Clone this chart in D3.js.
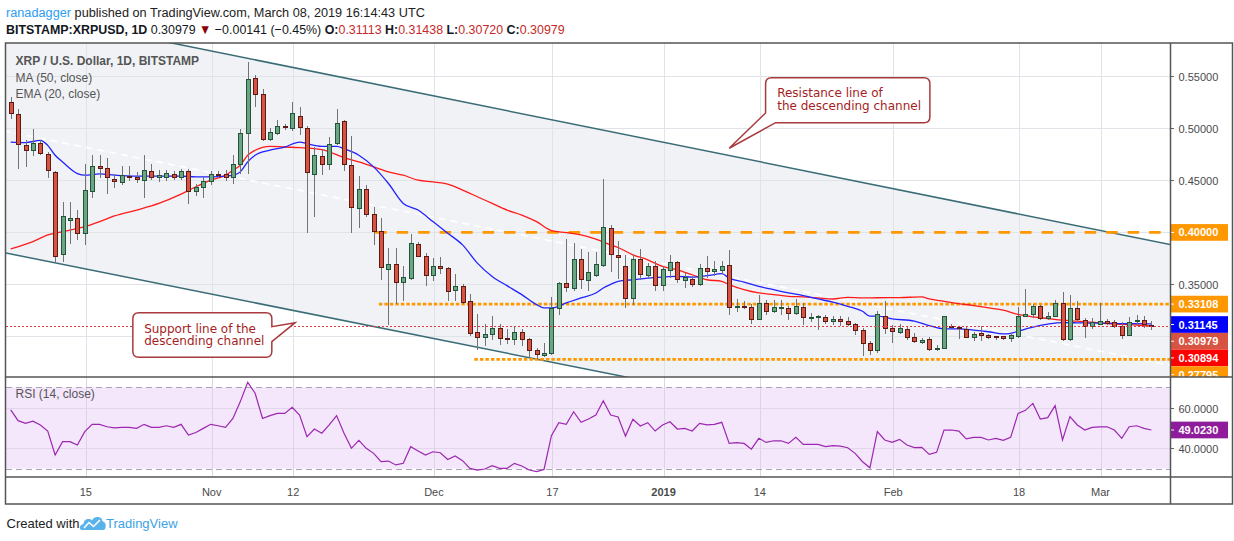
<!DOCTYPE html>
<html>
<head>
<meta charset="utf-8">
<script src="https://cdn.jsdelivr.net/npm/d3@7"></script>
<style>
body { margin: 0; background: #fff; }
svg { display: block; font-family: "Liberation Sans", Arial, sans-serif; }
</style>
</head>
<body>
<svg id="chart" width="1234" height="541"></svg>
<script>
// daily candles, Oct 5 2018 .. Mar 8 2019 (one value per day)
var firstDay = "2018-10-05", lastDay = "2019-03-08";

var opens = [
 .5258,.5140,.4844,.4796,.4863,.4758,.4582,.3791,.4120,.4136,
 .3992,.4400,.4636,.4624,.4518,.4486,.4544,.4534,.4502,.4588,
 .4534,.4534,.4566,.4534,.4592,.4400,.4432,.4496,.4566,.4560,
 .4528,.4656,.4959,.5482,.5332,.4901,.4959,.5019,.5006,.5118,
 .5006,.4566,.4735,.4656,.4860,.5067,.4652,.4231,.4413,.4174,
 .4018,.3648,.3695,.3523,.3561,.3887,.3778,.3590,.3673,.3657,
 .3447,.3485,.3338,.3041,.2997,.3019,.3083,.2981,.2971,.3041,
 .2971,.2866,.2825,.2844,.3274,.3514,.3466,.3743,.3545,.3593,
 .3686,.4040,.3785,.3673,.3370,.3743,.3587,.3679,.3491,.3635,
 .3714,.3539,.3555,.3504,.3657,.3625,.3641,.3683,.3284,.3293,
 .3284,.3169,.3322,.3242,.3281,.3274,.3226,.3284,.3179,.3188,
 .3188,.3153,.3169,.3150,.3121,.3064,.2933,.2869,.3201,.3083,
 .3041,.3073,.2997,.2946,.2978,.2876,.2892,.3105,.3092,.3073,
 .2997,.3029,.3013,.3000,.3000,.2987,.3003,.3201,.3220,.3297,
 .3179,.3201,.3322,.2978,.3274,.3156,.3099,.3124,.3144,.3137,
 .3105,.3016,.3153,.3156,.31113];
var highs = [
 .5306,.5188,.4885,.4997,.4892,.4774,.4588,.4295,.4295,.4215,
 .4656,.4742,.4742,.4719,.4566,.4636,.4636,.4582,.4742,.4662,
 .4598,.4598,.4592,.4614,.4614,.4470,.4534,.4592,.4588,.4598,
 .4742,.4997,.5641,.5514,.5380,.5006,.5077,.5045,.5258,.5204,
 .5019,.4821,.4799,.4917,.5188,.5077,.4923,.4541,.4455,.4247,
 .4136,.3848,.3848,.3673,.3982,.3912,.3801,.3753,.3762,.3663,
 .3600,.3504,.3411,.3211,.3115,.3195,.3124,.3073,.3105,.3067,
 .2987,.2891,.2933,.3380,.3520,.3938,.3896,.3839,.3810,.3810,
 .4512,.4072,.3919,.3785,.3785,.3842,.3704,.3721,.3679,.3785,
 .3730,.3609,.3584,.3699,.3775,.3721,.3727,.3833,.3360,.3338,
 .3316,.3402,.3354,.3354,.3354,.3297,.3360,.3322,.3226,.3210,
 .3210,.3195,.3195,.3188,.3131,.3083,.2955,.3249,.3338,.3108,
 .3121,.3099,.3029,.2987,.2997,.2914,.3201,.3115,.3105,.3099,
 .3041,.3105,.3019,.3003,.3003,.3035,.3281,.3456,.3316,.3306,
 .3233,.3354,.3428,.3402,.3344,.3179,.3179,.3322,.3169,.3156,
 .3137,.3188,.3210,.3194,.31438];
var lows = [
 .5102,.4620,.4636,.4742,.4758,.4534,.3730,.3721,.3896,.3938,
 .3890,.4343,.4534,.4375,.4439,.4470,.4502,.4486,.4337,.4509,
 .4496,.4502,.4509,.4518,.4279,.4359,.4343,.4464,.4534,.4502,
 .4477,.4573,.4573,.5220,.4885,.4885,.4949,.4997,.4981,.4949,
 .4008,.4161,.4566,.4614,.4853,.4598,.4008,.4056,.4161,.3890,
 .3552,.3124,.3322,.3354,.3552,.3769,.3498,.3539,.3609,.3354,
 .3354,.3322,.3010,.2882,.2914,.2971,.2923,.2933,.2923,.2914,
 .2812,.2796,.2812,.2828,.3211,.3434,.3443,.3466,.3450,.3577,
 .3680,.3625,.3561,.3284,.3316,.3555,.3561,.3443,.3450,.3571,
 .3520,.3475,.3488,.3498,.3571,.3593,.3609,.3217,.3242,.3271,
 .3131,.3163,.3211,.3233,.3220,.3163,.3211,.3115,.3147,.3073,
 .3131,.3115,.3108,.3108,.3019,.2818,.2834,.2850,.3035,.2946,
 .3029,.2971,.2946,.2933,.2869,.2869,.2885,.3086,.2987,.2990,
 .2965,.2965,.2984,.2978,.2978,.2955,.2997,.3195,.3188,.3163,
 .3163,.3195,.2965,.2965,.3156,.2997,.3080,.3115,.3115,.3092,
 .2987,.3010,.3115,.3092,.30720];
var closes = [
 .5150,.4853,.4796,.4863,.4767,.4598,.3769,.4158,.4142,.3992,
 .4407,.4636,.4620,.4528,.4496,.4550,.4528,.4509,.4598,.4534,
 .4550,.4576,.4534,.4592,.4400,.4439,.4496,.4566,.4550,.4528,
 .4656,.4959,.5475,.5332,.4895,.4965,.5019,.5010,.5150,.5013,
 .4582,.4748,.4662,.4853,.5054,.4662,.4247,.4413,.4174,.4018,
 .3667,.3695,.3523,.3571,.3896,.3778,.3590,.3673,.3657,.3434,
 .3485,.3329,.3035,.2997,.3019,.3083,.2987,.2974,.3041,.2971,
 .2866,.2831,.2844,.3274,.3514,.3475,.3743,.3552,.3619,.3695,
 .4049,.3791,.3762,.3370,.3743,.3600,.3679,.3491,.3651,.3714,
 .3552,.3571,.3504,.3657,.3625,.3648,.3673,.3284,.3293,.3287,
 .3169,.3322,.3242,.3284,.3287,.3226,.3290,.3188,.3188,.3195,
 .3147,.3163,.3147,.3121,.3061,.2939,.2869,.3211,.3083,.3051,
 .3083,.2997,.2955,.2965,.2876,.2892,.3195,.3092,.3080,.2997,
 .3019,.3010,.2990,.2990,.2987,.3010,.3201,.3217,.3297,.3179,
 .3201,.3322,.2978,.3274,.3169,.3099,.3137,.3147,.3131,.3099,
 .3016,.3137,.3159,.3121,.30979];

// moving averages: [day index, value]
var ema20 = [[0,.4869],[2,.4863],[4,.4885],[5,.4837],[6,.4742],[7,.4678],[9,.4566],[10,.4550],[12,.4562],[14,.4550],
 [17,.4541],[20,.4541],[23,.4541],[25,.4534],[27,.4534],[29,.4541],[30,.4550],[31,.4582],[32,.4678],[33,.4742],
 [35,.4790],[37,.4821],[39,.4869],[40,.4853],[42,.4828],[44,.4828],[45,.4805],[47,.4742],[49,.4630],[51,.4470],
 [53,.4279],[55,.4215],[57,.4104],[59,.3992],[61,.3880],[63,.3705],[65,.3577],[67,.3488],[69,.3402],[71,.3306],
 [72,.3274],[73,.3274],[74,.3290],[75,.3322],[77,.3370],[79,.3418],[80,.3466],[81,.3500],[82,.3530],[84,.3545],
 [86,.3561],[88,.3571],[90,.3577],[92,.3571],[94,.3584],[96,.3603],[97,.3561],[99,.3523],[101,.3482],[103,.3450],
 [105,.3418],[107,.3393],[109,.3360],[111,.3329],[113,.3290],[115,.3242],[116,.3195],[117,.3195],[119,.3169],[122,.3147],
 [124,.3105],[126,.3073],[128,.3073],[130,.3061],[132,.3045],[134,.3025],[135,.3030],[136,.3050],[138,.3090],[140,.3118],
 [142,.3133],[144,.3131],[146,.3128],[148,.3128],[150,.3124],[152,.3124],[154,.3120]];
var ma50 = [[0,.3842],[3,.3912],[5,.3976],[7,.4008],[10,.4056],[12,.4104],[14,.4158],[17,.4215],[20,.4279],[23,.4368],
 [25,.4439],[27,.4502],[29,.4550],[30,.4598],[31,.4646],[32,.4742],[33,.4790],[35,.4828],[37,.4821],[39,.4815],
 [42,.4796],[45,.4719],[47,.4678],[49,.4630],[51,.4582],[53,.4550],[55,.4502],[57,.4486],[59,.4464],[61,.4407],
 [63,.4343],[65,.4279],[67,.4215],[69,.4167],[71,.4104],[73,.4018],[75,.3998],[77,.3976],[79,.3935],[81,.3880],
 [82,.3855],[84,.3785],[86,.3737],[88,.3673],[90,.3641],[92,.3593],[94,.3545],[96,.3530],[97,.3498],[99,.3450],
 [101,.3418],[103,.3402],[105,.3386],[107,.3380],[109,.3370],[111,.3360],[113,.3376],[115,.3370],[117,.3372],[120,.3373],
 [123,.3380],[124,.3360],[126,.3338],[128,.3316],[130,.3297],[132,.3274],[134,.3252],[136,.3211],[138,.3188],[140,.3172],
 [142,.3156],[144,.3147],[146,.3137],[148,.3124],[150,.3115],[152,.3110],[154,.3100]];

var rsi = [
 58.9,53.6,52.3,53.4,51.5,48.5,36.7,43.3,43.3,41.6,
 48.2,51.8,51.8,50.6,50.1,50.3,50.3,49.8,51.8,50.3,
 50.3,51.1,50.3,51.8,46.5,47.8,49.8,51.8,51.1,50.3,
 54.7,63.0,72.5,67.1,54.7,56.1,57.2,57.2,60.2,56.4,
 45.7,49.5,47.4,51.5,56.1,47.4,40.0,43.9,40.0,37.5,
 33.4,33.7,31.8,32.6,40.8,38.7,36.7,38.3,37.8,34.5,
 36.2,33.9,30.1,29.3,29.8,31.4,30.1,30.1,32.6,31.3,
 29.3,28.5,29.6,46.2,52.6,51.8,58.0,52.8,54.4,56.4,
 63.4,56.4,55.4,46.0,54.3,51.0,52.6,48.5,51.5,53.1,
 49.5,49.8,48.5,52.3,51.5,51.8,52.8,42.4,42.8,42.4,
 39.6,44.9,42.9,43.7,43.7,42.4,45.4,41.9,41.9,41.9,
 40.8,41.3,41.1,40.3,37.5,33.4,30.4,48.2,44.1,42.9,
 44.4,41.6,40.3,40.5,37.0,38.0,49.0,49.0,48.5,44.6,
 45.4,45.4,44.1,44.9,43.9,45.4,57.2,58.7,62.1,54.4,
 55.1,61.0,44.1,55.6,51.5,49.0,50.3,50.6,50.6,49.0,
 44.9,50.6,51.1,49.8,49.023];
var rsiLast = 49.023;

// drawings: descending channel at day index -1 and 157
var channelIdx = [-1, 157];
var channelUpper = [0.6148, 0.3876];
var channelLower = [0.3807, 0.1557];
var channelMid = [0.4977, 0.2716];

// horizontal levels and where they start (day index)
var levelValues = [0.40, 0.33108, 0.27795];
var levelStart = [49.2, 49.7, 62.6];

// price axis tags
var tagValues = [0.40, 0.33108, 0.31145, 0.30979, 0.30894, 0.27795];
var lastPrice = 0.30979;

var priceTicks = [0.30, 0.35, 0.40, 0.45, 0.50, 0.55];
var priceTickLabels = [0.35, 0.45, 0.50, 0.55];
var rsiTicks = [60, 40];
var rsiBands = [70, 30];
var tickDates = ["2018-10-15","2018-11-01","2018-11-12","2018-12-01","2018-12-17","2019-01-01","2019-01-14","2019-02-01","2019-02-18","2019-03-01"];
var tickLabels = ["15","Nov","12","Dec","17","2019","14","Feb","18","Mar"];

var legendLines = ["XRP / U.S. Dollar, 1D, BITSTAMP", "MA (50, close)", "EMA (20, close)"];
var resistanceText = ["Resistance line of", "the descending channel"];
var supportText = ["Support line of the", "descending channel"];
var resistanceTip = [97.0, 0.4809];
var supportTip = [38.4, 0.3132];

// ---------------------------------------------------------------
var L = 6, R = 1170, T = 43, MB = 377, RB = 477, AB = 504;
var svg = d3.select("#chart");
var parse = d3.utcParse("%Y-%m-%d");
var day0 = parse(firstDay);
var days = d3.utcDay.range(day0, d3.utcDay.offset(parse(lastDay), 1));

var x = d3.scaleUtc().domain([day0, parse(lastDay)]).range([10.7, 1151.4]);
function xi(i) { return x(new Date(day0.getTime() + i * 864e5)); }
var y = d3.scaleLinear().domain([0.2610, 0.5821]).range([MB, T]);
var yr = d3.scaleLinear().domain([25.86, 75.12]).range([RB, MB]);
function crisp(v) { return Math.round(v) + 0.5; }

var defs = svg.append("defs");
defs.append("clipPath").attr("id", "mainClip").append("rect")
    .attr("x", L).attr("y", T).attr("width", R - L).attr("height", MB - T);
defs.append("clipPath").attr("id", "rsiClip").append("rect")
    .attr("x", L).attr("y", MB).attr("width", R - L).attr("height", RB - MB);
defs.append("clipPath").attr("id", "tagClip").append("rect")
    .attr("x", R).attr("y", T).attr("width", 1234 - R).attr("height", MB - T);

svg.append("rect").attr("width", 1234).attr("height", 541).attr("fill", "#fff");

// backgrounds: channel fill and rsi band
var mainBg = svg.append("g").attr("clip-path", "url(#mainClip)");
var chanPoly = [[xi(channelIdx[0]), y(channelUpper[0])], [xi(channelIdx[1]), y(channelUpper[1])],
                [xi(channelIdx[1]), y(channelLower[1])], [xi(channelIdx[0]), y(channelLower[0])]];
mainBg.append("path").attr("d", "M" + chanPoly.join("L") + "Z").attr("fill", "#f0f2f5");

var rsiBg = svg.append("g").attr("clip-path", "url(#rsiClip)");
rsiBg.append("rect").attr("x", L).attr("width", R - L)
    .attr("y", yr(rsiBands[0])).attr("height", yr(rsiBands[1]) - yr(rsiBands[0]))
    .attr("fill", "#f4e6fb");

// grid
var grid = svg.append("g").attr("stroke-width", 1);
priceTicks.forEach(function(p) {
    grid.append("line").attr("x1", L).attr("x2", R).attr("y1", crisp(y(p))).attr("y2", crisp(y(p)))
        .attr("stroke", "#e0e3e7");
});
rsiTicks.forEach(function(v) {
    grid.append("line").attr("x1", L).attr("x2", R).attr("y1", crisp(yr(v))).attr("y2", crisp(yr(v)))
        .attr("stroke", "#e1d6ea");
});
tickDates.forEach(function(d) {
    var xx = crisp(x(parse(d)) + 1);
    grid.append("line").attr("x1", xx).attr("x2", xx).attr("y1", T).attr("y2", MB).attr("stroke", "#e0e3e7");
    grid.append("line").attr("x1", xx).attr("x2", xx).attr("y1", MB).attr("y2", RB).attr("stroke", "#ddd3e6");
});

var main = svg.append("g").attr("clip-path", "url(#mainClip)");

// channel middle line and borders
main.append("line")
    .attr("x1", xi(channelIdx[0])).attr("y1", y(channelMid[0]))
    .attr("x2", xi(channelIdx[1])).attr("y2", y(channelMid[1]))
    .attr("stroke", "#fff").attr("stroke-width", 1.6).attr("stroke-dasharray", "7,5");
[channelUpper, channelLower].forEach(function(c) {
    main.append("line")
        .attr("x1", xi(channelIdx[0])).attr("y1", y(c[0]))
        .attr("x2", xi(channelIdx[1])).attr("y2", y(c[1]))
        .attr("stroke", "#3a6c76").attr("stroke-width", 1.5);
});

// horizontal levels
var levelDash = ["11.5,10", "3.5,2", "3.5,2"];
var levelWidth = [2.8, 2.6, 2.6];
levelValues.forEach(function(v, k) {
    main.append("line").attr("x1", xi(levelStart[k])).attr("x2", R)
        .attr("y1", y(v)).attr("y2", y(v))
        .attr("stroke", "#ff9800").attr("stroke-width", levelWidth[k])
        .attr("stroke-dasharray", levelDash[k]);
});

// moving averages
var maLine = d3.line().x(function(d) { return xi(d[0]); }).y(function(d) { return y(d[1]); })
    .curve(d3.curveMonotoneX);
main.append("path").datum(ma50).attr("d", maLine).attr("fill", "none")
    .attr("stroke", "#ff1a1a").attr("stroke-width", 1.3);
main.append("path").datum(ema20).attr("d", maLine).attr("fill", "none")
    .attr("stroke", "#2222ff").attr("stroke-width", 1.3);

// candles
var bars = days.map(function(d, i) {
    return { d: d, o: opens[i], h: highs[i], l: lows[i], c: closes[i] };
});
var cg = main.append("g");
cg.selectAll("line").data(bars).join("line")
    .attr("x1", function(b) { return crisp(x(b.d)); })
    .attr("x2", function(b) { return crisp(x(b.d)); })
    .attr("y1", function(b) { return Math.round(y(b.h)); })
    .attr("y2", function(b) { return Math.round(y(b.l)) + 1; })
    .attr("stroke", "#737375").attr("stroke-width", 1);
cg.selectAll("rect").data(bars).join("rect")
    .attr("x", function(b) { return Math.round(x(b.d)) - 1.5; })
    .attr("width", 4)
    .attr("y", function(b) { return crisp(y(Math.max(b.o, b.c))); })
    .attr("height", function(b) {
        return Math.max(1, Math.round(y(Math.min(b.o, b.c))) - Math.round(y(Math.max(b.o, b.c))));
    })
    .attr("fill", function(b) { return b.c >= b.o ? "#6ba583" : "#d75442"; })
    .attr("stroke", function(b) { return b.c >= b.o ? "#225437" : "#5b1a13"; })
    .attr("stroke-width", 1);

// last price line
main.append("line").attr("x1", L).attr("x2", R)
    .attr("y1", crisp(y(lastPrice))).attr("y2", crisp(y(lastPrice)))
    .attr("stroke", "#e0393e").attr("stroke-width", 1).attr("stroke-dasharray", "2,2");

// rsi band lines and line
var rsiG = svg.append("g").attr("clip-path", "url(#rsiClip)");
rsiBands.forEach(function(v) {
    rsiG.append("line").attr("x1", L).attr("x2", R).attr("y1", crisp(yr(v))).attr("y2", crisp(yr(v)))
        .attr("stroke", "#a9a3b2").attr("stroke-width", 1).attr("stroke-dasharray", "6,4");
});
rsiG.append("path").datum(rsi)
    .attr("d", d3.line().x(function(d, i) { return x(days[i]); }).y(function(d) { return yr(d); }))
    .attr("fill", "none").attr("stroke", "#9c27b0").attr("stroke-width", 1.2);

// callouts
function callout(tip, lines, side) {
    var tx = xi(tip[0]), ty = y(tip[1]);
    var r = 6, x0, y0, x1, y1, d, textX, base;
    if (side === "left") {
        x0 = tx + 36.4; y0 = ty - 70.6; x1 = x0 + 164.3; y1 = y0 + 45;
        d = "M" + (x0 + r) + "," + y0 + "H" + (x1 - r) + "Q" + x1 + "," + y0 + " " + x1 + "," + (y0 + r) +
            "V" + (y1 - r) + "Q" + x1 + "," + y1 + " " + (x1 - r) + "," + y1 +
            "H" + (x0 + 10) + "L" + tx + "," + ty + "L" + x0 + "," + (y0 + 35.3) +
            "V" + (y0 + r) + "Q" + x0 + "," + y0 + " " + (x0 + r) + "," + y0 + "Z";
        textX = x0 + 11.6; base = y0 + 19.8;
    } else {
        x1 = tx - 23.3; x0 = x1 - 139; y0 = ty - 10; y1 = y0 + 44.6;
        d = "M" + (x0 + r) + "," + y0 + "H" + (x1 - r) + "Q" + x1 + "," + y0 + " " + x1 + "," + (y0 + r) +
            "V" + (y0 + 14) + "L" + tx + "," + ty + "L" + x1 + "," + (y0 + 29) +
            "V" + (y1 - r) + "Q" + x1 + "," + y1 + " " + (x1 - r) + "," + y1 +
            "H" + (x0 + r) + "Q" + x0 + "," + y1 + " " + x0 + "," + (y1 - r) +
            "V" + (y0 + r) + "Q" + x0 + "," + y0 + " " + (x0 + r) + "," + y0 + "Z";
        textX = x0 + 11.3; base = y0 + 20.3;
    }
    var g = svg.append("g");
    g.append("path").attr("d", d).attr("fill", "#fff").attr("stroke", "#a83a3d").attr("stroke-width", 1.5);
    lines.forEach(function(t, k) {
        g.append("text").attr("x", textX).attr("y", base + k * 12.4).text(t)
            .attr("font-family", "DejaVu Sans, Verdana, sans-serif").attr("font-size", 12)
            .attr("fill", "#a51d24");
    });
}
callout(resistanceTip, resistanceText, "left");
callout(supportTip, supportText, "right");

// legends
svg.append("text").attr("x", 15.5).attr("y", 64.8).text(legendLines[0])
    .attr("font-size", 12).attr("font-weight", "bold").attr("fill", "#555");
svg.append("text").attr("x", 15.5).attr("y", 81.8).text(legendLines[1])
    .attr("font-size", 12).attr("fill", "#555");
svg.append("text").attr("x", 15.5).attr("y", 98.4).text(legendLines[2])
    .attr("font-size", 12).attr("fill", "#555");
svg.append("text").attr("x", 15.5).attr("y", 398.2).text("RSI (14, close)")
    .attr("font-size", 12).attr("fill", "#555");

// price axis
var ax = svg.append("g").attr("font-size", 11);
priceTickLabels.forEach(function(p) {
    var yy = crisp(y(p));
    ax.append("line").attr("x1", R).attr("x2", R + 4).attr("y1", yy).attr("y2", yy).attr("stroke", "#666");
    ax.append("text").attr("x", 1178.5).attr("y", yy + 4).text(d3.format(".5f")(p)).attr("fill", "#4a4a4a");
});
rsiTicks.forEach(function(v) {
    var yy = crisp(yr(v));
    ax.append("line").attr("x1", R).attr("x2", R + 4).attr("y1", yy).attr("y2", yy).attr("stroke", "#666");
    ax.append("text").attr("x", 1178.5).attr("y", yy + 4).text(d3.format(".4f")(v)).attr("fill", "#4a4a4a");
});

// stacked tags
var tagColors = ["#ff9800", "#ff9800", "#0000ff", "#d75442", "#ff0000", "#ff9800"];
var tagH = 16.7, prevBottom = -1e9;
var tg = svg.append("g").attr("clip-path", "url(#tagClip)");
tagValues.forEach(function(v, k) {
    var cy = Math.max(y(v), prevBottom + tagH / 2);
    prevBottom = cy + tagH / 2;
    tg.append("rect").attr("x", R + 0.5).attr("y", cy - tagH / 2).attr("width", 57.5).attr("height", tagH)
        .attr("fill", tagColors[k]);
    tg.append("line").attr("x1", R).attr("x2", R + 4).attr("y1", cy).attr("y2", cy).attr("stroke", "#fff");
    tg.append("text").attr("x", 1178.5).attr("y", cy + 4).text(d3.format(".5f")(v))
        .attr("font-size", 11).attr("font-weight", "bold").attr("fill", "#fff");
});
var ry = yr(rsiLast);
svg.append("rect").attr("x", R + 0.5).attr("y", ry - tagH / 2).attr("width", 57.5).attr("height", tagH)
    .attr("fill", "#8e1d9c");
svg.append("line").attr("x1", R).attr("x2", R + 4).attr("y1", ry).attr("y2", ry).attr("stroke", "#fff");
svg.append("text").attr("x", 1178.5).attr("y", ry + 4).text(d3.format(".4f")(rsiLast))
    .attr("font-size", 11).attr("font-weight", "bold").attr("fill", "#fff");

// time axis
tickDates.forEach(function(d, k) {
    svg.append("text").attr("x", x(parse(d)) + 1).attr("y", 496)
        .attr("text-anchor", "middle").attr("font-size", 11)
        .attr("font-weight", tickLabels[k] === "2019" ? "bold" : "normal")
        .attr("fill", "#4a4a4a").text(tickLabels[k]);
});

// frame
var fr = svg.append("g").attr("stroke", "#555").attr("stroke-width", 1.5).attr("fill", "none");
fr.append("rect").attr("x", 5.5).attr("y", 43).attr("width", 1227).attr("height", AB - 43);
fr.append("line").attr("x1", R + 0.5).attr("x2", R + 0.5).attr("y1", 43).attr("y2", AB);
fr.append("line").attr("x1", 5.5).attr("x2", 1232.5).attr("y1", MB).attr("y2", MB);
fr.append("line").attr("x1", 5.5).attr("x2", 1232.5).attr("y1", RB).attr("y2", RB);

// header: each line squeezed to the reference width
function headerLine(yPos, width, parts) {
    var t = svg.append("text").attr("x", 0).attr("y", yPos).attr("font-size", 13.5)
        .style("white-space", "pre");
    parts.forEach(function(p) {
        t.append("tspan").attr("font-weight", p[1]).attr("fill", p[2]).text(p[0]);
    });
    var len = t.node().getComputedTextLength();
    t.attr("transform", "translate(6,0) scale(" + (width / len) + ",1)");
}
headerLine(17, 419, [["ranadagger", "normal", "#2a9df4"],
    [" published on TradingView.com, March 08, 2019 16:14:43 UTC", "normal", "#222"]]);
headerLine(34, 559, [["BITSTAMP:XRPUSD, 1D", "bold", "#131722"], [" 0.30979 ", "normal", "#131722"],
    ["\u25BC", "normal", "#8b0000"], [" \u22120.00141 (\u22120.45%) ", "normal", "#131722"],
    ["O:", "bold", "#131722"], ["0.31113", "normal", "#c62828"],
    [" H:", "bold", "#131722"], ["0.31438", "normal", "#c62828"],
    [" L:", "bold", "#131722"], ["0.30720", "normal", "#c62828"],
    [" C:", "bold", "#131722"], ["0.30979", "normal", "#c62828"]]);

// footer
svg.append("text").attr("x", 6.5).attr("y", 528).attr("font-size", 13).attr("fill", "#222").text("Created with");
var logo = svg.append("g");
logo.append("path")
    .attr("d", "M82,530 C79,530 79,524.5 83.5,524 C83.5,519.5 89,517.5 92,520.5 C94,515.5 102.5,516 102.5,521.5 C106.5,521.5 107,530 103,530 Z")
    .attr("fill", "#5ab2ea");
logo.append("polyline").attr("points", "84,528 89,522.5 93.5,526.5 100,520")
    .attr("fill", "none").attr("stroke", "#fff").attr("stroke-width", 1.6);
svg.append("text").attr("x", 106).attr("y", 528).attr("font-size", 13).attr("fill", "#3ba3e6").text("TradingView");
</script>
</body>
</html>
